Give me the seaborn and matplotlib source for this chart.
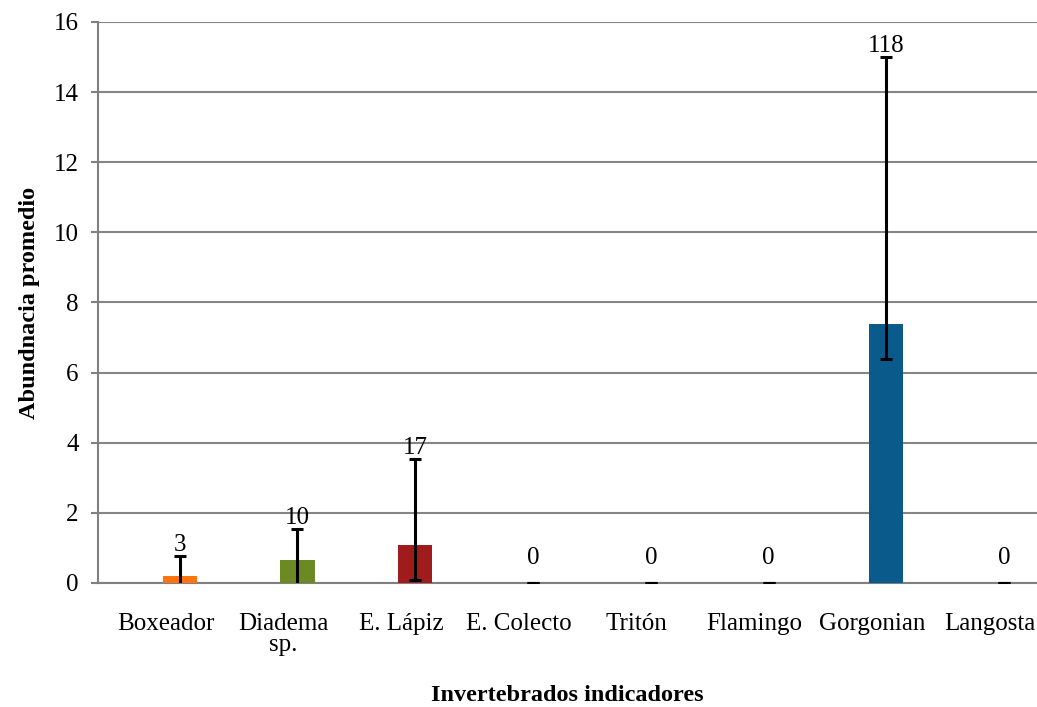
import matplotlib
matplotlib.use("Agg")
import matplotlib.pyplot as plt
import matplotlib.transforms as mtransforms
import seaborn as sns
import pandas as pd
import numpy as np

categories = ["Boxeador", "Diadema\nsp.", "E. Lápiz", "E. Colecto", "Tritón", "Flamingo", "Gorgonian", "Langosta"]
means = [0.2, 0.66, 1.08, 0.0, 0.0, 0.0, 7.39, 0.0]
err_low = [0.57, 0.88, 1.0, 0.0, 0.0, 0.0, 1.0, 0.0]
err_high = [0.57, 0.88, 2.46, 0.0, 0.0, 0.0, 7.62, 0.0]
counts = ["3", "10", "17", "0", "0", "0", "118", "0"]
y_ticks = [0, 2, 4, 6, 8, 10, 12, 14, 16]
colors = ["#FF7410", "#6B8A23", "#A01C1C", "#404040", "#404040", "#404040", "#0B5A8C", "#404040"]

sns.set_style("white")
SERIF = ['Liberation Serif', 'DejaVu Serif']
plt.rcParams['font.family'] = SERIF
plt.rcParams['text.color'] = 'black'
plt.rcParams['axes.labelcolor'] = 'black'
plt.rcParams['xtick.color'] = 'black'
plt.rcParams['ytick.color'] = 'black'

fig = plt.figure(figsize=(10.37, 7.07), dpi=100)
ax = fig.add_axes([0.0945, 0.1754, 0.9055, 0.7935])

df = pd.DataFrame({"cat": categories, "val": means})
sns.barplot(data=df, x="cat", y="val", hue="cat", palette=colors, legend=False,
            width=0.29, ax=ax, zorder=3, linewidth=0, saturation=1)

x = np.arange(len(categories))
ax.errorbar(x, means, yerr=[err_low, err_high], fmt="none", ecolor="black",
            elinewidth=2.2, capsize=4, capthick=2.2, zorder=4)

for xi, m, eh, lab in zip(x, means, err_high, counts):
    top = m + eh
    off = 0 if top > 0 else 10
    ax.annotate(lab, (xi, top), xytext=(0, off), textcoords="offset points",
                ha="center", va="bottom", fontsize=18, color="black", family=SERIF)

ax.set_ylim(0, 16)
ax.set_yticks(y_ticks, labels=[str(t) for t in y_ticks])
ax.set_xlim(-0.694, 7.28)
ax.yaxis.grid(True, color="#858585", linewidth=1.5, zorder=0)
ax.set_axisbelow(True)
for s in ["top", "right"]:
    ax.spines[s].set_visible(False)
for s in ["left", "bottom"]:
    ax.spines[s].set_color("#808080")
    ax.spines[s].set_linewidth(1.5)
ax.tick_params(axis="y", which="both", left=True, length=5, width=1.5, color="#808080",
               labelsize=18, pad=9, labelcolor="black")
ax.tick_params(axis="x", bottom=False, labelsize=18, pad=18, labelcolor="black")
shift = mtransforms.ScaledTranslation(-14 / 100, 0, fig.dpi_scale_trans)
for lbl in ax.get_xticklabels():
    lbl.set_transform(lbl.get_transform() + shift)
    lbl.set_linespacing(0.95)
    lbl.set_fontfamily(SERIF)
for lbl in ax.get_yticklabels():
    lbl.set_fontfamily(SERIF)
ax.set_xlabel("Invertebrados indicadores", fontsize=17.5, fontweight="bold", labelpad=21,
              color="black", family=SERIF)
ax.set_ylabel("Abundnacia promedio", fontsize=17.5, fontweight="bold", labelpad=10,
              color="black", family=SERIF)

fig.savefig("out.png", dpi=100)
